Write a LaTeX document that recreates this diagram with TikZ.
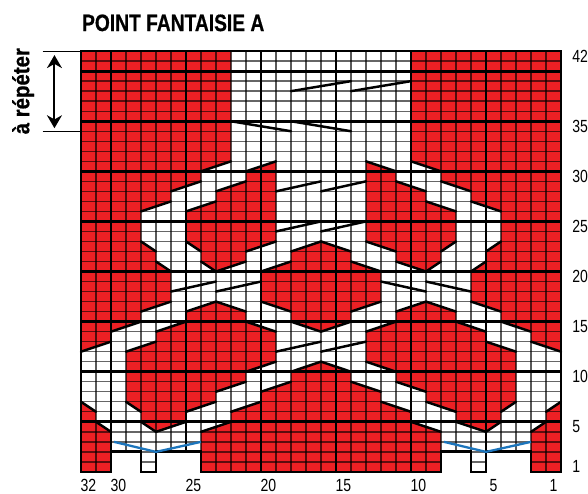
\documentclass[tikz,border=0pt]{standalone}
\usepackage{fontspec}
\setmainfont{Liberation Sans}
\newfontfamily\narrowfont[FakeStretch=0.8]{Liberation Sans}
\newfontfamily\headfont[FakeStretch=0.81, BoldFeatures={FakeBold=0.6}]{Liberation Sans}
\newfontfamily\sidefont[FakeStretch=0.88, BoldFeatures={FakeBold=0.6}]{Liberation Sans}
\usetikzlibrary{arrows.meta}
\definecolor{cRed}{RGB}{237,32,36}
\definecolor{cBlue}{RGB}{28,117,188}
\tikzset{
  redzone/.style={fill=cRed},
  colgrid/.style={black, opacity=0.65, line width=1pt},
  rowgrid/.style={black, opacity=0.6, line width=0.8pt},
  heavyline/.style={black, line width=1.6pt, line cap=rect, line join=miter},
  slopeline/.style={black, line width=1.4pt, line cap=round},
  blueline/.style={cBlue, line width=1.3pt, line join=round},
  tickline/.style={black, line width=0.6pt},
  repeatarrow/.style={{Stealth[length=2.6mm,width=3mm]}-{Stealth[length=2.6mm,width=3mm]}, black, line width=1.1pt},
  titletext/.style={font=\headfont\bfseries\fontsize{13.5}{15}\selectfont, inner sep=0pt},
  sidetext/.style={font=\sidefont\bfseries\fontsize{13.2}{15}\selectfont, inner sep=0pt},
  numlabel/.style={font=\narrowfont\fontsize{10}{12}\selectfont, inner sep=0pt}
}
\begin{document}
\begin{tikzpicture}[x=0.3cm, y=0.2004cm]
  \useasboundingbox (-5.4,-2.196) rectangle (33.8,47.1);

  \fill[redzone] (0,42) -- (10,42) -- (10,31) -- (8,30) -- (8,29) -- (6,28) -- (6,27) -- (4,26)
    -- (4,23) -- (5,22) -- (5,21) -- (6,20) -- (6,17) -- (4,16) -- (4,15) -- (2,14) -- (2,13) -- (0,12) -- cycle;
  \fill[redzone] (32,42) -- (22,42) -- (22,31) -- (24,30) -- (24,29) -- (26,28) -- (26,27) -- (28,26)
    -- (28,23) -- (27,22) -- (27,21) -- (26,20) -- (26,17) -- (28,16) -- (28,15) -- (30,14) -- (30,13) -- (32,12) -- cycle;
  \fill[redzone] (13,31) -- (11,30) -- (11,29) -- (9,28) -- (9,27) -- (7,26) -- (7,23) -- (8,22)
    -- (8,21) -- (9,20) -- (11,21) -- (11,22) -- (13,23) -- cycle;
  \fill[redzone] (19,31) -- (21,30) -- (21,29) -- (23,28) -- (23,27) -- (25,26) -- (25,23) -- (24,22)
    -- (24,21) -- (23,20) -- (21,21) -- (21,22) -- (19,23) -- cycle;
  \fill[redzone] (16,23) -- (18,22) -- (18,21) -- (20,20) -- (20,17) -- (18,16) -- (18,15) -- (16,14)
    -- (14,15) -- (14,16) -- (12,17) -- (12,20) -- (14,21) -- (14,22) -- cycle;
  \fill[redzone] (5,4) -- (4,5) -- (4,6) -- (3,7) -- (3,12) -- (5,13) -- (5,14) -- (7,15) -- (7,16) -- (9,17)
    -- (11,16) -- (11,15) -- (13,14) -- (13,11) -- (11,10) -- (11,9) -- (9,8) -- (9,7) -- (7,6) -- (7,5) -- cycle;
  \fill[redzone] (27,4) -- (28,5) -- (28,6) -- (29,7) -- (29,12) -- (27,13) -- (27,14) -- (25,15) -- (25,16) -- (23,17)
    -- (21,16) -- (21,15) -- (19,14) -- (19,11) -- (21,10) -- (21,9) -- (23,8) -- (23,7) -- (25,6) -- (25,5) -- cycle;
  \fill[redzone] (8,0) -- (8,4) -- (10,5) -- (10,6) -- (12,7) -- (12,8) -- (14,9) -- (14,10) -- (16,11) -- (18,10)
    -- (18,9) -- (20,8) -- (20,7) -- (22,6) -- (22,5) -- (24,4) -- (24,0) -- cycle;
  \fill[redzone] (0,0) -- (2,0) -- (2,4) -- (1,5) -- (1,6) -- (0,7) -- cycle;
  \fill[redzone] (32,0) -- (30,0) -- (30,4) -- (31,5) -- (31,6) -- (32,7) -- cycle;

  \foreach \col in {1,...,31} \draw[colgrid] (\col,0) -- (\col,42);
  \foreach \row in {1,...,41} \draw[rowgrid] (0,\row) -- (32,\row);

  \fill[white] (2,-0.3) rectangle (4,2) (5,-0.3) rectangle (8,2) (24,-0.3) rectangle (26,2) (27,-0.3) rectangle (30,2);

  \foreach \row in {5,10,...,40} \draw[heavyline] (0,\row) -- (32,\row);
  \foreach \col in {12,17,22,27} \draw[heavyline] (\col,0) -- (\col,42);
  \draw[heavyline] (7,2) -- (7,42);
  \draw[heavyline] (0,42) -- (32,42) -- (32,0) -- (30,0) -- (30,2) -- (27,2) -- (27,0) -- (26,0) -- (26,2) -- (24,2)
    -- (24,0) -- (8,0) -- (8,2) -- (5,2) -- (5,0) -- (4,0) -- (4,2) -- (2,2) -- (2,0) -- (0,0) -- cycle;
  \draw[heavyline] (2,2) -- (2,42);

  \draw[slopeline] (8,30) -- (10,31) (6,28) -- (8,29) (4,26) -- (6,27) (4,23) -- (5,22) (5,21) -- (6,20)
    (4,16) -- (6,17) (2,14) -- (4,15) (0,12) -- (2,13) (0,7) -- (1,6) (1,5) -- (2,4);
  \draw[slopeline] (22,31) -- (24,30) (24,29) -- (26,28) (26,27) -- (28,26) (28,23) -- (27,22) (27,21) -- (26,20)
    (26,17) -- (28,16) (28,15) -- (30,14) (30,13) -- (32,12) (32,7) -- (31,6) (31,5) -- (30,4);
  \draw[slopeline] (11,30) -- (13,31) (9,28) -- (11,29) (7,26) -- (9,27) (7,23) -- (8,22) (8,21) -- (9,20)
    (9,20) -- (11,21) (11,22) -- (13,23);
  \draw[slopeline] (19,31) -- (21,30) (21,29) -- (23,28) (23,27) -- (25,26) (25,23) -- (24,22) (24,21) -- (23,20)
    (23,20) -- (21,21) (21,22) -- (19,23);
  \draw[slopeline] (14,22) -- (16,23) -- (18,22) (18,21) -- (20,20) (20,17) -- (18,16) (18,15) -- (16,14) -- (14,15)
    (14,16) -- (12,17) (12,20) -- (14,21);
  \draw[slopeline] (4,5) -- (5,4) -- (7,5) (3,7) -- (4,6) (3,12) -- (5,13) (5,14) -- (7,15) (7,16) -- (9,17) -- (11,16)
    (11,15) -- (13,14) (13,11) -- (11,10) (11,9) -- (9,8) (9,7) -- (7,6);
  \draw[slopeline] (28,5) -- (27,4) -- (25,5) (29,7) -- (28,6) (29,12) -- (27,13) (27,14) -- (25,15) (25,16) -- (23,17) -- (21,16)
    (21,15) -- (19,14) (19,11) -- (21,10) (21,9) -- (23,8) (23,7) -- (25,6);
  \draw[slopeline] (8,4) -- (10,5) (10,6) -- (12,7) (12,8) -- (14,9) (14,10) -- (16,11) -- (18,10) (18,9) -- (20,8)
    (20,7) -- (22,6) (22,5) -- (24,4);
  \draw[slopeline] (14,38) -- (18,39) (18,38) -- (22,39) (10,35) -- (14,34) (14,35) -- (18,34)
    (13,28) -- (16,29) (16,28) -- (19,29) (13,24) -- (16,25) (16,24) -- (19,25)
    (6,18) -- (9,19) (9,18) -- (12,19) (20,19) -- (23,18) (23,19) -- (26,18)
    (13,12) -- (16,13) (16,12) -- (19,13);

  \draw[blueline] (2.2,3) -- (5,2) -- (8,3);
  \draw[blueline] (24.2,3) -- (27,2) -- (30,3);

  \node[titletext, anchor=base west] (title) at (0.05,44) {POINT FANTAISIE A};
  \node[sidetext, rotate=90, anchor=base] (repeat_text) at (-3.45,38) {à répéter};

  \coordinate (rep_top) at (0,42);
  \coordinate (rep_bot) at (0,34);
  \coordinate (tick_top) at (-2.55,42);
  \coordinate (tick_bot) at (-2.55,34);
  \coordinate (arrow_top) at (-1.77,41.6);
  \coordinate (arrow_bot) at (-1.77,34.3);
  \draw[tickline] (tick_top) -- (rep_top);
  \draw[tickline] (tick_bot) -- (rep_bot);
  \draw[repeatarrow] (arrow_top) -- (arrow_bot);

  \foreach \n in {1,5,10,15,20,25,30,35,42}
    \node[numlabel, anchor=west] (row_\n) at (32.73,\n-0.5) {\n};
  \foreach \n in {32,30,25,20,15,10,5,1}
    \node[numlabel] (col_\n) at (32.5-\n,-1.4) {\n};
\end{tikzpicture}
\end{document}
